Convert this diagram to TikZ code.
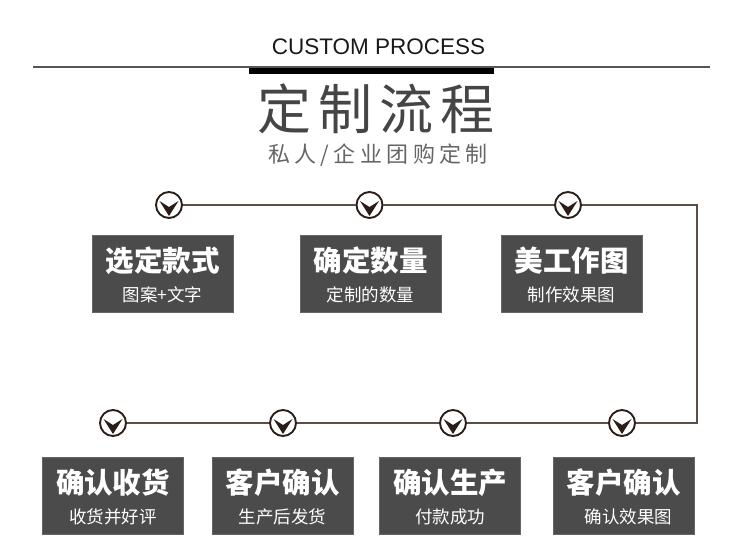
\documentclass[tikz,border=0pt]{standalone}
\usepackage{fontspec}
\setmainfont{Liberation Sans}
\newfontfamily\cjk{Noto Sans CJK SC}
\newfontfamily\cjkwide[LetterSpace=13]{Noto Sans CJK SC}
\newfontfamily\cjkmid[LetterSpace=20]{Noto Sans CJK SC}
\usetikzlibrary{calc}
\definecolor{linec}{HTML}{5C4D47}
\definecolor{circc}{HTML}{2B1F1A}
\definecolor{chevc}{HTML}{2A1D18}
\definecolor{boxc}{HTML}{4B4B4B}
\definecolor{boxe}{HTML}{666666}
\definecolor{titc}{HTML}{454545}
\definecolor{subc}{HTML}{666666}
\definecolor{rulec}{HTML}{555555}
\begin{document}
\begin{tikzpicture}[x=1pt,y=-1pt,
  flow/.style={draw=linec,line width=1.5pt},
  stepcirc/.style={circle,draw=circc,line width=1.9pt,fill=white,minimum size=26pt,inner sep=0pt,
    path picture={\fill[chevc]
      ([shift={(-9.5pt,4pt)}]path picture bounding box.center) --
      ([shift={(0pt,-2pt)}]path picture bounding box.center) --
      ([shift={(9.5pt,4pt)}]path picture bounding box.center) --
      ([shift={(0pt,-11pt)}]path picture bounding box.center) -- cycle;}},
  stepbox/.style={rectangle,fill=boxc,draw=boxe,line width=0.8pt,minimum width=141pt,minimum height=77pt,inner sep=0pt},
  btitle/.style={text=white,font=\cjk\bfseries\fontsize{28.5}{30}\selectfont,inner sep=0pt},
  bsub/.style={text=white,font=\cjk\fontsize{17.5}{19}\selectfont,inner sep=0pt}]
\useasboundingbox (0,0) rectangle (750,557);
% header
\draw[rulec,line width=1.5pt] (33,67) -- (710,67);
\fill[black] (249,67.5) rectangle (494,73.5);
\node[font=\fontsize{22.5}{25}\selectfont,text=black!90,inner sep=0pt] (en) at (378.5,47) {CUSTOM PROCESS};
\node[font=\cjkwide\fontsize{54}{56}\selectfont,text=titc,inner sep=0pt] (zh) at (376.5,108.5) {定制流程};
\node[font=\cjkmid\fontsize{22}{24}\selectfont,text=subc,inner sep=0pt] (zhsub) at (378,155) {私人/企业团购定制};
% circles
\node[stepcirc] (t1) at (169,205) {};
\node[stepcirc] (t2) at (369.5,205) {};
\node[stepcirc] (t3) at (568,205) {};
\node[stepcirc] (b4) at (622,423) {};
\node[stepcirc] (b3) at (453,423) {};
\node[stepcirc] (b2) at (283,423) {};
\node[stepcirc] (b1) at (113,423) {};
\coordinate (k1) at (697,205);
\coordinate (k2) at (697,423);
\draw[flow] (t1) -- (t2);
\draw[flow] (t2) -- (t3);
\draw[flow] (t3) -- (k1) -- (k2) -- (b4);
\draw[flow] (b4) -- (b3);
\draw[flow] (b3) -- (b2);
\draw[flow] (b2) -- (b1);
% top boxes
\node[stepbox] (s1) at (162.5,273.5) {};
\node[btitle] at ($(s1.center)+(0,-12.5)$) {选定款式};
\node[bsub] at ($(s1.center)+(0,21.5)$) {图案+文字};
\node[stepbox] (s2) at (370.5,273.5) {};
\node[btitle] at ($(s2.center)+(0,-12.5)$) {确定数量};
\node[bsub] at ($(s2.center)+(0,21.5)$) {定制的数量};
\node[stepbox] (s3) at (571.5,273.5) {};
\node[btitle] at ($(s3.center)+(0,-12.5)$) {美工作图};
\node[bsub] at ($(s3.center)+(0,21.5)$) {制作效果图};
% bottom boxes
\node[stepbox] (s7) at (113,495.5) {};
\node[btitle] at ($(s7.center)+(0,-12.5)$) {确认收货};
\node[bsub] at ($(s7.center)+(0,21.5)$) {收货并好评};
\node[stepbox] (s6) at (282.5,495.5) {};
\node[btitle] at ($(s6.center)+(0,-12.5)$) {客户确认};
\node[bsub] at ($(s6.center)+(0,21.5)$) {生产后发货};
\node[stepbox] (s5) at (450,495.5) {};
\node[btitle] at ($(s5.center)+(0,-12.5)$) {确认生产};
\node[bsub] at ($(s5.center)+(0,21.5)$) {付款成功};
\node[stepbox] (s4) at (623.5,495.5) {};
\node[btitle] at ($(s4.center)+(0,-12.5)$) {客户确认};
\node[bsub] at ($(s4.center)+(5,21.5)$) {确认效果图};
\end{tikzpicture}
\end{document}
